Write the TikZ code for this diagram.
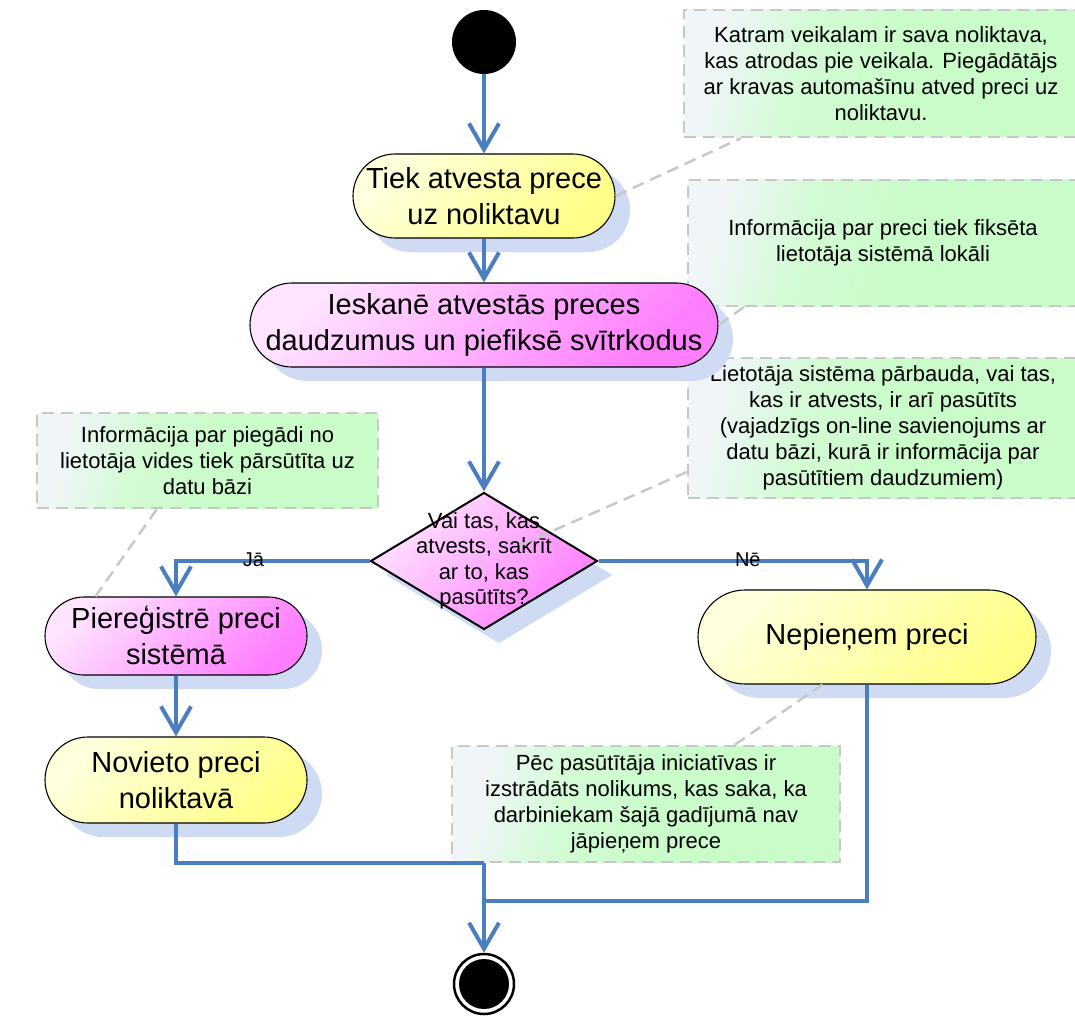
\documentclass[tikz,border=0pt]{standalone}
\usepackage{fontspec}
\setmainfont{Liberation Sans}
\usetikzlibrary{arrows.meta,shapes.geometric,shadows,calc}

\definecolor{flowblue}{RGB}{74,126,193}
\definecolor{notegray}{RGB}{200,200,200}
\definecolor{notelight}{RGB}{240,246,248}
\definecolor{notegreen}{RGB}{202,252,202}
\definecolor{yellowlight}{RGB}{255,255,222}
\definecolor{yellowdark}{RGB}{255,255,135}
\definecolor{pinklight}{RGB}{255,228,255}
\definecolor{pinkdark}{RGB}{255,125,255}
\definecolor{shadowblue}{RGB}{207,219,242}

% comment fill: pale at the left edge, green over most of the box
\pgfdeclarehorizontalshading{notefade}{100bp}{color(0bp)=(notelight);
  color(25bp)=(notelight); color(38bp)=(notegreen!75!notelight);
  color(52bp)=(notegreen); color(100bp)=(notegreen)}

\tikzset{
  softshadow/.style={drop shadow={shadow xshift=15pt, shadow yshift=-14pt,
      fill=shadowblue, opacity=1, draw=none}},
  actbase/.style={rectangle, draw=black, line width=1.1pt, inner sep=0pt,
      align=center, font=\fontsize{29}{36}\selectfont, softshadow},
  yellowact/.style={actbase, top color=yellowlight, bottom color=yellowdark,
      shading angle=45},
  pinkact/.style={actbase, top color=pinklight, bottom color=pinkdark,
      shading angle=45},
  decision/.style={diamond, draw=black, line width=2pt, inner sep=0pt,
      top color=pinklight, bottom color=pinkdark, shading angle=45, softshadow},
  dectext/.style={align=center, inner sep=0pt, font=\fontsize{22}{25.5}\selectfont},
  note/.style={rectangle, draw=notegray, line width=2.5pt,
      dash pattern=on 12pt off 7pt, inner sep=0pt, align=center,
      shading=notefade, shading angle=-15, font=\fontsize{22}{26}\selectfont},
  notelink/.style={draw=notegray, line width=2.5pt, dash pattern=on 12pt off 7pt},
  flow/.style={draw=flowblue, line width=4pt, -{Straight Barb[length=26pt, width=30pt]}},
  flowline/.style={draw=flowblue, line width=4pt},
  guard/.style={font=\fontsize{20}{24}\selectfont, inner sep=0pt, yshift=1pt},
  startnode/.style={circle, fill=black, minimum size=64pt, inner sep=0pt},
  endnode/.style={circle, draw=black, line width=2.5pt, fill=white,
      minimum size=60pt, inner sep=0pt}
}

\begin{document}
\begin{tikzpicture}[x=1pt, y=-1pt]
\useasboundingbox (0,0) rectangle (1075,1016);

% comment boxes
\node[note, minimum width=394pt, minimum height=127pt] (note1) at (881,73.5)
  {Katram veikalam ir sava noliktava,\\kas atrodas pie veikala. Piegādātājs\\ar kravas automašīnu atved preci uz\\noliktavu.};
\node[note, minimum width=390pt, minimum height=126pt] (note2) at (883,243)
  {Informācija par preci tiek fiksēta\\lietotāja sistēmā lokāli};
\node[note, minimum width=390pt, minimum height=140pt] (note3) at (883,428)
  {Lietotāja sistēma pārbauda, vai tas,\\kas ir atvests, ir arī pasūtīts\\(vajadzīgs on-line savienojums ar\\datu bāzi, kurā ir informācija par\\pasūtītiem daudzumiem)};
\node[note, minimum width=341pt, minimum height=95pt] (note4) at (207.5,460.5)
  {Informācija par piegādi no\\lietotāja vides tiek pārsūtīta uz\\datu bāzi};
\node[note, minimum width=388pt, minimum height=116pt] (note5) at (646,804)
  {Pēc pasūtītāja iniciatīvas ir\\izstrādāts nolikums, kas saka, ka\\darbiniekam šajā gadījumā nav\\jāpieņem prece};

% activity flow
\node[startnode] (start) at (484,42) {};
\node[yellowact, rounded corners=42pt, minimum width=262pt, minimum height=84pt]
  (n1) at (484,196) {Tiek atvesta prece\\uz noliktavu};
\node[pinkact, rounded corners=42pt, minimum width=468pt, minimum height=84pt]
  (n2) at (484,325) {Ieskanē atvestās preces\\daudzumus un piefiksē svītrkodus};
\node[decision, minimum width=227pt, minimum height=137pt] (dec) at (484,561) {};
\node[dectext] (dect) at (484,561) {Vai tas, kas\\atvests, sakrīt\\ar to, kas\\pasūtīts?};
\node[pinkact, rounded corners=39pt, minimum width=262pt, minimum height=78pt]
  (reg) at (176,636) {Piereģistrē preci\\sistēmā};
\node[yellowact, rounded corners=43pt, minimum width=262pt, minimum height=86pt]
  (nov) at (176,780) {Novieto preci\\noliktavā};
\node[yellowact, rounded corners=47pt, minimum width=338pt, minimum height=94pt]
  (rej) at (867,637) {Nepieņem preci};
\node[endnode] (end) at (484,984) {};
\fill[black] (end.center) circle[radius=25pt];

\coordinate (joinA) at (484,863);
\coordinate (joinB) at (484,901);

% control flow
\draw[flow] (start) -- (n1);
\draw[flow] (n1) -- (n2);
\draw[flow] (n2) -- (dec);
\draw[flow] (dec.west) -| node[guard, pos=0.3] (yes) {Jā} (reg.north);
\draw[flow] (dec.east) -| node[guard, pos=0.278] (no) {Nē} (rej.north);
\draw[flow] (reg) -- (nov);
\draw[flowline] (nov.south) |- (joinA);
\draw[flowline] (rej.south) |- (joinB);
\draw[flow] (joinA) -- (end);

% links from comments to their elements
\draw[notelink] (n1.east) -- ($(note1.south west)+(58,0)$);
\draw[notelink] (n2.east) -- ($(note2.south west)+(57,0)$);
\draw[notelink] ($(note3.west)+(0,44)$) -- ($(dec.center)!0.176!($(note3.west)+(0,44)$)$);
\draw[notelink] ($(note4.south west)+(121,0)$) -- ($(reg.north west)+(51,0)$);
\draw[notelink] ($(note5.north west)+(284,0)$) -- ($(rej.south west)+(125,0)$);
\end{tikzpicture}
\end{document}
